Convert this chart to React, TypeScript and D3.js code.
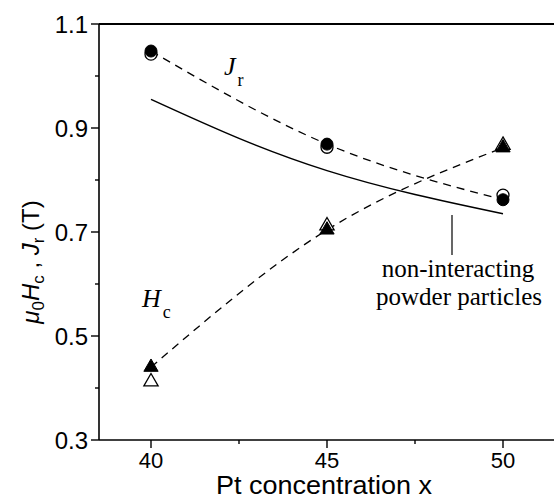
import React from "react";
import * as d3 from "d3";

const conc = [40, 45, 50];
const jrFilled = [1.048, 0.869, 0.762];
const jrOpen = [1.042, 0.863, 0.771];
const hcFilled = [0.44, 0.704, 0.862];
const hcOpen = [0.412, 0.712, 0.867];
const nonIntX = [40, 42.5, 45, 47.5, 50];
const nonIntY = [0.955, 0.88, 0.818, 0.772, 0.735];
const xMajor = [40, 45, 50];
const xMinor = [42.5, 47.5];
const yMajor = [0.3, 0.5, 0.7, 0.9, 1.1];
const yMinor = [0.4, 0.6, 0.8, 1.0];

const W = 554, H = 499;
const sans = "'Liberation Sans', Arial, sans-serif";
const serif = "'Liberation Serif', 'Times New Roman', serif";

export default function App() {
  const x = d3.scaleLinear().domain([40, 50]).range([151, 503]);
  const y = d3.scaleLinear().domain([0.3, 1.1]).range([440, 24]);
  const left = 99, right = W, top = y(1.1), bottom = y(0.3);

  const curve = d3.line<[number, number]>().x(d => x(d[0])).y(d => y(d[1])).curve(d3.curveNatural);
  const zip = (a: number[], b: number[]) => a.map((v, i) => [v, b[i]] as [number, number]);
  const tri = d3.symbol().type(d3.symbolTriangle).size(88)();

  return (
    <svg width={W} height={H} style={{ position: "absolute", left: 0, top: 0, background: "#fff" }}>
      {/* frame */}
      <line x1={left} x2={right} y1={top} y2={top} stroke="#000" strokeWidth={2} />
      <line x1={left} x2={right} y1={bottom} y2={bottom} stroke="#000" strokeWidth={1.6} />
      <line x1={left} x2={left} y1={top} y2={bottom} stroke="#000" strokeWidth={1.6} />
      {/* x ticks */}
      {xMajor.map(t => (
        <g key={"xm" + t}>
          <line x1={x(t)} x2={x(t)} y1={bottom} y2={bottom + 8} stroke="#000" strokeWidth={1.4} />
          <text x={x(t)} y={468} fontFamily={sans} fontSize={22} textAnchor="middle">{t}</text>
        </g>
      ))}
      {xMinor.map(t => (
        <line key={"xn" + t} x1={x(t)} x2={x(t)} y1={bottom} y2={bottom + 4} stroke="#000" strokeWidth={1.4} />
      ))}
      {/* y ticks */}
      {yMajor.map(t => (
        <g key={"ym" + t}>
          <line x1={left - 8} x2={left} y1={y(t)} y2={y(t)} stroke="#000" strokeWidth={1.4} />
          <text x={88} y={y(t) + 8.5} fontFamily={sans} fontSize={24} textAnchor="end">{t.toFixed(1)}</text>
        </g>
      ))}
      {yMinor.map(t => (
        <line key={"yn" + t} x1={left - 4} x2={left} y1={y(t)} y2={y(t)} stroke="#000" strokeWidth={1.4} />
      ))}
      {/* axis titles */}
      <text x={324} y={494} fontFamily={sans} fontSize={25} textAnchor="middle" textLength={216} lengthAdjust="spacingAndGlyphs">Pt concentration x</text>
      <text transform="translate(39,262) rotate(-90)" fontFamily={sans} fontSize={24} textAnchor="middle">
        <tspan fontStyle="italic">μ</tspan>
        <tspan fontSize={17} dy={5}>0</tspan>
        <tspan fontStyle="italic" dy={-5}>H</tspan>
        <tspan fontSize={17} dy={5}>c</tspan>
        <tspan dy={-5}> , </tspan>
        <tspan fontStyle="italic">J</tspan>
        <tspan fontSize={17} dy={5}>r</tspan>
        <tspan dy={-5}> (T)</tspan>
      </text>
      {/* solid non-interacting curve */}
      <path d={curve(zip(nonIntX, nonIntY)) || ""} fill="none" stroke="#000" strokeWidth={1.5} />
      {/* dashed fits */}
      <path d={curve(zip(conc, jrFilled)) || ""} fill="none" stroke="#000" strokeWidth={1.3} strokeDasharray="8,6" />
      <path d={curve(zip(conc, hcFilled)) || ""} fill="none" stroke="#000" strokeWidth={1.3} strokeDasharray="8,6" />
      {/* open markers */}
      {conc.map((c, i) => (
        <circle key={"jo" + c} cx={x(c)} cy={y(jrOpen[i])} r={6} fill="#fff" stroke="#000" strokeWidth={1.3} />
      ))}
      {conc.map((c, i) => (
        <path key={"ho" + c} d={tri || ""} transform={`translate(${x(c)},${y(hcOpen[i])})`} fill="#fff" stroke="#000" strokeWidth={1.3} />
      ))}
      {/* filled markers */}
      {conc.map((c, i) => (
        <circle key={"jf" + c} cx={x(c)} cy={y(jrFilled[i])} r={6} fill="#000" stroke="#000" strokeWidth={1} />
      ))}
      {conc.map((c, i) => (
        <path key={"hf" + c} d={tri || ""} transform={`translate(${x(c)},${y(hcFilled[i])})`} fill="#000" stroke="#000" strokeWidth={1} />
      ))}
      {/* series labels */}
      <text x={224} y={75} fontFamily={serif} fontSize={26}>
        <tspan fontStyle="italic">J</tspan>
        <tspan fontSize={18} dy={11} dx={2}>r</tspan>
      </text>
      <text x={142} y={307} fontFamily={serif} fontSize={26}>
        <tspan fontStyle="italic">H</tspan>
        <tspan fontSize={18} dy={11} dx={2}>c</tspan>
      </text>
      {/* annotation */}
      <line x1={452} x2={452} y1={215} y2={255} stroke="#000" strokeWidth={1.2} />
      <text x={458} y={277} fontFamily={serif} fontSize={25} textAnchor="middle">non-interacting</text>
      <text x={459} y={305} fontFamily={serif} fontSize={25} textAnchor="middle">powder particles</text>
    </svg>
  );
}
